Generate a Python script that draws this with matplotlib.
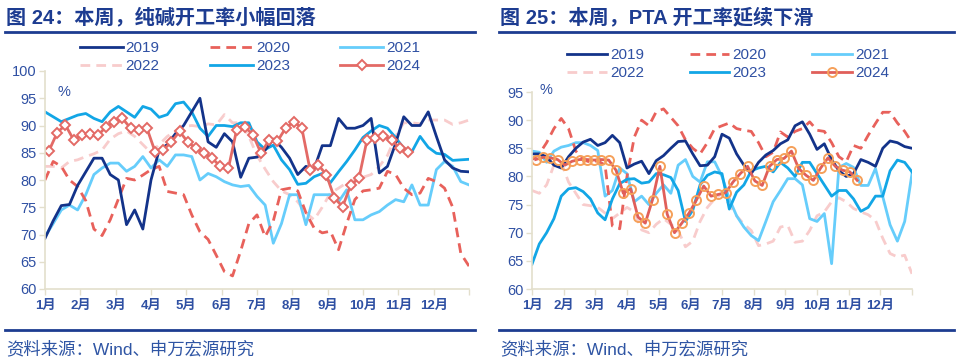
import numpy as np
import matplotlib
matplotlib.use('Agg')
import matplotlib.pyplot as plt
from matplotlib.lines import Line2D

plt.rcParams['font.family'] = ['Liberation Sans', 'Noto Sans CJK SC']

# ---------------- DATA ----------------
months = ['1月', '2月', '3月', '4月', '5月', '6月', '7月', '8月', '9月', '10月', '11月', '12月']
years = ['2019', '2020', '2021', '2022', '2023', '2024']

# 图24 纯碱开工率 (weekly, %)
soda_2019 = [69.3, 72.5, 75.3, 75.5, 79, 81.5, 84, 84, 81, 80, 71.8, 74.5, 71, 80, 85.5, 86.5, 88.5, 90,
             92.5, 95, 87, 86, 88.5, 87, 80.5, 84, 84.2, 85.5, 87.5, 86, 84, 81, 82.5, 82, 86.3, 86.3, 91.3,
             89.5, 89.5, 90, 91.3, 81.3, 82.5, 86.7, 91.6, 90, 90, 92.5, 88, 83.7, 82.2, 81.6, 81.5]
soda_2020 = [80, 83.4, 82.5, 80, 78.8, 76.2, 71, 69.8, 72.7, 76.5, 80.3, 80, 80.9, 81.9, 82.5, 77.9, 77.6,
             77.3, 73.6, 70.5, 69.1, 66.2, 63.2, 62.4, 67, 72, 73.6, 69.6, 72.5, 78.2, 78.5, 78, 74, 71.2,
             70.3, 70.6, 67.2, 72, 76.4, 78, 78.2, 78.5, 81.6, 81, 78.5, 77.3, 77.6, 80.3, 79.7, 78.5, 75,
             66.5, 64.2]
soda_2021 = [69.6, 72, 74.5, 75.4, 74.5, 77.3, 81, 82.2, 83.1, 83.1, 81.6, 82.5, 84.3, 82.2, 83.7, 82.5,
             84.6, 84.6, 84.3, 80, 81.2, 80.6, 79.7, 79.1, 78.8, 79, 77, 75.4, 68.4, 72, 77.3, 77.3, 71.8,
             77.3, 77.3, 77.3, 76, 78.2, 72.7, 72.7, 73.6, 74.2, 75.4, 76.4, 76, 79.1, 75.4, 75.4, 81.9,
             83.4, 82.5, 79.7, 79.1]
soda_2022 = [82.5, 82.5, 82.2, 83.4, 83.7, 84.3, 84.8, 85.5, 87.5, 88.5, 89, 88, 86.5, 85, 86.5, 88, 89,
             89.8, 90, 89.8, 90.3, 90.1, 92, 90.5, 90.5, 88, 84.5, 82, 79.7, 78, 77.3, 76, 74, 72.7, 75,
             77.6, 78.5, 79.5, 80, 80.5, 81, 82.5, 84.5, 88, 90.5, 90.5, 90.3, 91, 91, 91, 90.2, 90.5, 91]
soda_2023 = [92.5, 91.6, 90.7, 91.3, 91.9, 92.2, 91.3, 90.7, 92.5, 93.5, 92.5, 91.5, 93.5, 93, 91.5, 92,
             94, 94.3, 92.5, 89.5, 88, 90, 90, 89.8, 90.5, 90.5, 87, 85.6, 86.4, 83.7, 81.9, 79.2, 79.4,
             80.6, 81.2, 79.5, 81.5, 83.4, 85.5, 87.8, 89, 90, 89.5, 87.8, 85.8, 85.2, 88, 86, 84.9, 84.7,
             83.6, 83.7, 83.8]
soda_2024 = [85.4, 88.7, 90.1, 87.4, 88.2, 88.4, 88.2, 89.8, 90.7, 91.3, 89.5, 89.2, 89.5, 85.2, 85.5, 87,
             88.9, 87, 85.8, 84.9, 84, 82.5, 82.2, 89.2, 89.8, 88.3, 84.9, 87.4, 87.1, 89.5, 90.7, 89.5,
             81.9, 82.8, 81, 76.7, 75.1, 79.1, 80.3, 87.4, 87.7, 88, 87.4, 85.8, 85.2]

# 图25 PTA开工率 (weekly, %)
pta_2019 = [84, 84, 83.5, 82, 81.5, 83.5, 85, 86.1, 86.6, 85.5, 86, 87.3, 86, 81.5, 82.2, 82.7, 80.5, 82.8,
            83.7, 85, 86.2, 86.3, 84, 81.9, 82, 83.5, 87.5, 86.8, 84, 82, 80.5, 82.5, 83.8, 84.6, 85.8,
            86.5, 89, 89.7, 87.5, 84.8, 85.8, 83, 81, 80, 80.5, 83, 82.5, 81.8, 85, 86.3, 86, 85.3, 85]
pta_2020 = [83, 84, 86, 88.5, 90.3, 88.5, 84.5, 83, 82.5, 82.8, 82, 71.2, 70.7, 80, 87, 90, 89, 91.5, 92,
            90.5, 89, 86.5, 85, 84, 86, 88.5, 89, 89.5, 88.5, 88.2, 88, 86, 83.5, 84.3, 87.9, 87, 88, 88.5,
            89.7, 88.2, 88, 86, 83.5, 82.6, 85.5, 85, 87.3, 89.4, 91.4, 91.4, 89.5, 88, 86]
pta_2021 = [84.5, 84.3, 82.5, 84.5, 85.2, 85.5, 86, 86, 85.5, 84.6, 76.5, 77.5, 81.5, 80.5, 75.5, 76.5, 75,
            77, 78.5, 77, 82, 83, 80, 79, 82.6, 82.6, 80, 76, 73, 71, 69.5, 68.6, 72, 75.5, 77.5, 79.6,
            79.6, 78.5, 72.5, 72, 73.4, 64.5, 81.6, 82.3, 81.6, 78.4, 78.4, 81.4, 76.4, 71.4, 68.5, 72, 80.5]
pta_2022 = [77.5, 77, 78.5, 82, 82.5, 79, 77, 75, 74.8, 74.5, 73.5, 72.5, 73.5, 74.5, 73.7, 70.5, 70, 71.5,
            72.5, 71.5, 70.4, 67.5, 68.5, 72, 74.5, 76, 77, 75, 73, 71.5, 70.4, 67.7, 68, 68.5, 71, 71.3,
            68.3, 68.5, 70.4, 73, 73.7, 75.5, 76.2, 75.5, 74.3, 73.7, 73.2, 72.2, 69, 66.3, 65.7, 66, 62.7]
pta_2023 = [64.4, 68, 70, 72.5, 76.5, 77.8, 78, 77.3, 76, 73.5, 72.3, 76, 78.7, 79.5, 79.6, 78.8, 79, 80.5,
            80.3, 79.8, 77.5, 72, 74, 78.5, 80.2, 80.8, 80.5, 74.2, 77.2, 78.5, 81, 81.5, 81.8, 80.8, 82.5,
            81.5, 80, 82.5, 82.5, 80.5, 78.5, 76.5, 77.5, 77.5, 76, 73.8, 74.5, 76.5, 76.5, 81, 82.9, 82.5,
            80.8]
pta_2024 = [83, 83.4, 83.3, 83, 82, 82.7, 83, 83, 82.9, 83, 82.9, 81.1, 77, 77.8, 72.8, 71.7, 75.9, 81.8,
            73.3, 70, 71.7, 73.5, 75.8, 78.3, 76.5, 76.8, 77.1, 79, 80.5, 81.8, 79.2, 78.4, 81.8, 83, 83.2,
            84.5, 81.4, 80.2, 79.3, 81.5, 83.3, 81.8, 81.1, 80.8, 79.3]

# ---------------- STYLE ----------------
NAVY = '#1d3c91'
TXT = '#2f50a3'
SPINE = '#e3dfcc'
LW = 2.0

fig = plt.figure(figsize=(9.6, 3.61), dpi=100)


def draw_panel(ax, series, ymin, ymax, marker24):
    c19, c20, c21, c22, c23, c24 = series
    ax.plot(np.arange(len(c22)), c22, color='#f8cccc', lw=LW, ls=(0, (3.5, 2.2)), label='2022')
    ax.plot(np.arange(len(c21)), c21, color='#66cdfb', lw=LW, label='2021')
    ax.plot(np.arange(len(c20)), c20, color='#e8615b', lw=LW, ls=(0, (3.5, 2.2)), label='2020')
    ax.plot(np.arange(len(c23)), c23, color='#12a6e6', lw=LW, label='2023')
    ax.plot(np.arange(len(c19)), c19, color='#13338a', lw=LW, label='2019')
    if marker24 == 'D':
        ax.plot(np.arange(len(c24)) + 0.5, c24, color='#e36a66', lw=LW, marker='D', ms=5,
                mfc='white', mec='#e36a66', mew=1.4, label='2024')
    else:
        ax.plot(np.arange(len(c24)) + 0.5, c24, color='#e05f5a', lw=LW, marker='o', ms=6.5,
                mfc='none', mec='#f5a05a', mew=1.4, label='2024')

    ax.set_xlim(0, 52)
    ax.set_ylim(ymin, ymax)
    ax.set_xticks([i * 52 / 12 for i in range(13)])
    ax.set_xticklabels(months + [''])
    ax.set_yticks(np.arange(ymin, ymax + 1, 5))
    ax.tick_params(axis='x', colors=SPINE, length=4, width=1, labelcolor=TXT, labelsize=9.5, pad=4)
    ax.tick_params(axis='y', colors=SPINE, length=4, width=1, labelcolor=TXT, labelsize=10.5, pad=2)
    for s in ['top', 'right']:
        ax.spines[s].set_visible(False)
    for s in ['left', 'bottom']:
        ax.spines[s].set_color(SPINE)
        ax.spines[s].set_linewidth(1.2)
    for lab in ax.get_xticklabels():
        lab.set_fontweight('bold')

    # legend fills column by column: reorder so rows read 2019 2020 2021 / 2022 2023 2024
    h, l = ax.get_legend_handles_labels()
    col_order = ['2019', '2022', '2020', '2023', '2021', '2024']
    idx = [l.index(y) for y in col_order]
    return [h[i] for i in idx], [l[i] for i in idx]


# left panel
ax1 = fig.add_axes([45 / 960, 1 - 289 / 361, 424 / 960, 218 / 361])
h1, l1 = draw_panel(ax1, [soda_2019, soda_2020, soda_2021, soda_2022, soda_2023, soda_2024], 60, 100, 'D')
ax1.text(0.045, 0.905, '%', transform=ax1.transAxes, color=TXT, fontsize=10.5, va='center', ha='center')
fig.legend(h1, l1, ncol=3, loc='center', bbox_to_anchor=(250 / 960, 1 - 57 / 361), frameon=False,
           fontsize=11, labelcolor=TXT, handlelength=2.8, handletextpad=0.2, columnspacing=3.3,
           labelspacing=0.25)

# right panel
ax2 = fig.add_axes([532 / 960, 1 - 289 / 361, 380 / 960, 197 / 361])
h2, l2 = draw_panel(ax2, [pta_2019, pta_2020, pta_2021, pta_2022, pta_2023, pta_2024], 60, 95, 'o')
ax2.text(0.036, 1.01, '%', transform=ax2.transAxes, color=TXT, fontsize=10.5, va='center', ha='center')
fig.legend(h2, l2, ncol=3, loc='center', bbox_to_anchor=(728 / 960, 1 - 64 / 361), frameon=False,
           fontsize=11, labelcolor=TXT, handlelength=2.6, handletextpad=0.2, columnspacing=3.0,
           labelspacing=0.25)

# titles, rules and sources
fig.text(6 / 960, 1 - 17 / 361, '图 24：本周，纯碱开工率小幅回落', fontsize=14.5, fontweight='bold',
         color=NAVY, va='center', ha='left')
fig.text(500 / 960, 1 - 17 / 361, '图 25：本周，PTA 开工率延续下滑', fontsize=14.5, fontweight='bold',
         color=NAVY, va='center', ha='left')
for x0, x1 in [(5, 475), (499, 954)]:
    fig.add_artist(Line2D([x0 / 960, x1 / 960], [1 - 31.5 / 361] * 2, color=NAVY, lw=2))
    fig.add_artist(Line2D([x0 / 960, x1 / 960], [1 - 330 / 361] * 2, color=NAVY, lw=2))
fig.text(6 / 960, 1 - 349 / 361, '资料来源：Wind、申万宏源研究', fontsize=12.5, color='#2f55a4',
         va='center', ha='left')
fig.text(500 / 960, 1 - 349 / 361, '资料来源：Wind、申万宏源研究', fontsize=12.5, color='#2f55a4',
         va='center', ha='left')

fig.savefig('out.png', dpi=100)
